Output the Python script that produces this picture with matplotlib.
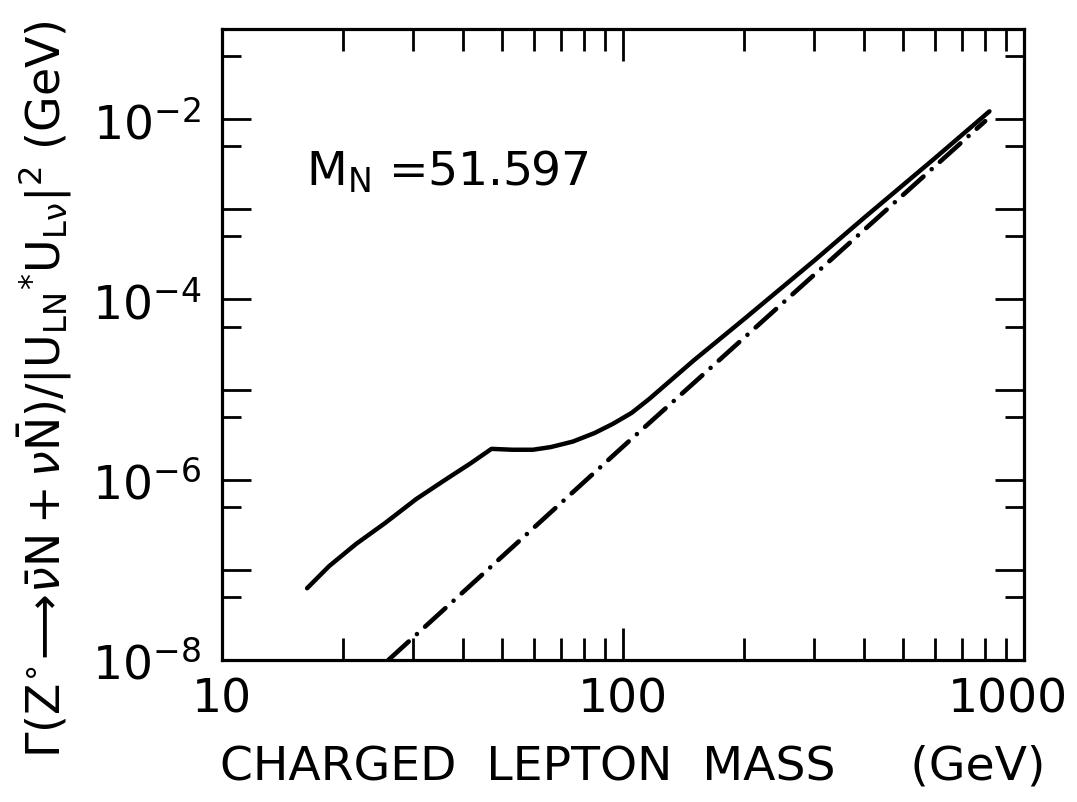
import numpy as np
import matplotlib
matplotlib.use("Agg")
import matplotlib.pyplot as plt
import matplotlib.transforms as mtransforms
from matplotlib.ticker import LogLocator, FixedLocator, FixedFormatter, NullFormatter

plt.rcParams['font.family'] = ['DejaVu Sans']
plt.rcParams['mathtext.fontset'] = 'dejavusans'

# ---- data ----
solid_mass = [16.3, 18.5, 21.6, 25.5, 30.5, 36.3, 41.5, 47.0, 53.0, 59.6, 66.0,
              75.0, 85.0, 94.3, 105.0, 116.4, 150.0, 200.0, 300.0, 400.0, 600.0, 820.0]
solid_width = [6.25e-8, 1.1e-7, 1.94e-7, 3.3e-7, 6.1e-7, 1.02e-6, 1.5e-6, 2.2e-6, 2.15e-6,
               2.15e-6, 2.3e-6, 2.65e-6, 3.3e-6, 4.16e-6, 5.5e-6, 7.9e-6, 2.1e-5, 6.0e-5,
               2.7e-4, 8.1e-4, 3.7e-3, 1.22e-2]

dashdot_mass = [26.0, 100.0, 800.0]
dashdot_width = [1.0e-8, 2.33e-6, 9.5e-3]

x_ticks = [10, 100, 1000]
x_ticklabels = ['10', '100', '1000']
y_label_ticks = [1e-8, 1e-6, 1e-4, 1e-2]
y_ticklabels = [r'$10^{-8}$', r'$10^{-6}$', r'$10^{-4}$', r'$10^{-2}$']
annotation = r'$\mathrm{M_N}$ =51.597'

fig = plt.figure(figsize=(10.77, 8.03), dpi=100)
ax = fig.add_axes([222/1077, 1-661/803, (1024-222)/1077, (661-30)/803])
ax.set_xscale('log')
ax.set_yscale('log')
ax.set_xlim(10, 1000)
ax.set_ylim(1e-8, 1e-1)

ax.plot(solid_mass, solid_width, color='black', lw=3.2, solid_capstyle='round',
        solid_joinstyle='round')
ax.plot(dashdot_mass, dashdot_width, color='black', lw=3.3,
        dashes=(6.0, 2.4, 0.01, 2.4), dash_capstyle='round')

for s in ax.spines.values():
    s.set_linewidth(2.3)

# x ticks
ax.xaxis.set_major_locator(FixedLocator(x_ticks))
ax.xaxis.set_major_formatter(FixedFormatter(x_ticklabels))
ax.xaxis.set_minor_locator(LogLocator(base=10, subs=np.arange(2, 10)))
ax.xaxis.set_minor_formatter(NullFormatter())
ax.tick_params(axis='x', which='major', direction='in', length=23, width=2.0,
               top=True, bottom=True, labelsize=34, pad=12)
ax.tick_params(axis='x', which='minor', direction='in', length=16, width=2.0,
               top=True, bottom=True)

# y ticks: long at decades, short at 5x10^n
y_dec = [10.0**k for k in range(-8, 0)]
y_half = [5 * 10.0**k for k in range(-9, -1)]
ax.yaxis.set_major_locator(FixedLocator(y_dec))
ax.yaxis.set_major_formatter(FixedFormatter(
    [y_ticklabels[y_label_ticks.index(v)] if v in y_label_ticks else '' for v in y_dec]))
ax.yaxis.set_minor_locator(FixedLocator(y_half))
ax.yaxis.set_minor_formatter(NullFormatter())
ax.tick_params(axis='y', which='major', direction='in', length=21, width=2.0,
               left=True, right=True, labelsize=34, pad=15)
ax.tick_params(axis='y', which='minor', direction='in', length=14, width=2.0,
               left=True, right=True)

fig.canvas.draw()
xlabels = ax.get_xticklabels()
shift = mtransforms.ScaledTranslation(-16/100, 0, fig.dpi_scale_trans)
xlabels[-1].set_transform(xlabels[-1].get_transform() + shift)

ax.set_xlabel('CHARGED  LEPTON  MASS     (GeV)', fontsize=34)
ax.xaxis.set_label_coords(0.512, -0.132)
ax.set_ylabel(r'$\Gamma(\mathrm{Z}^{\circ}\!\longrightarrow\!\bar{\nu}\mathrm{N}+\nu\bar{\mathrm{N}})/|\mathrm{U_{LN}}{}^{*}\mathrm{U_{L\nu}}|^{2}$ (GeV)',
              fontsize=33)
ax.yaxis.set_label_coords(-0.185, 0.43)

ax.text(0.105, 0.775, annotation, transform=ax.transAxes, fontsize=34,
        ha='left', va='center')

fig.savefig('out.png', dpi=100)
